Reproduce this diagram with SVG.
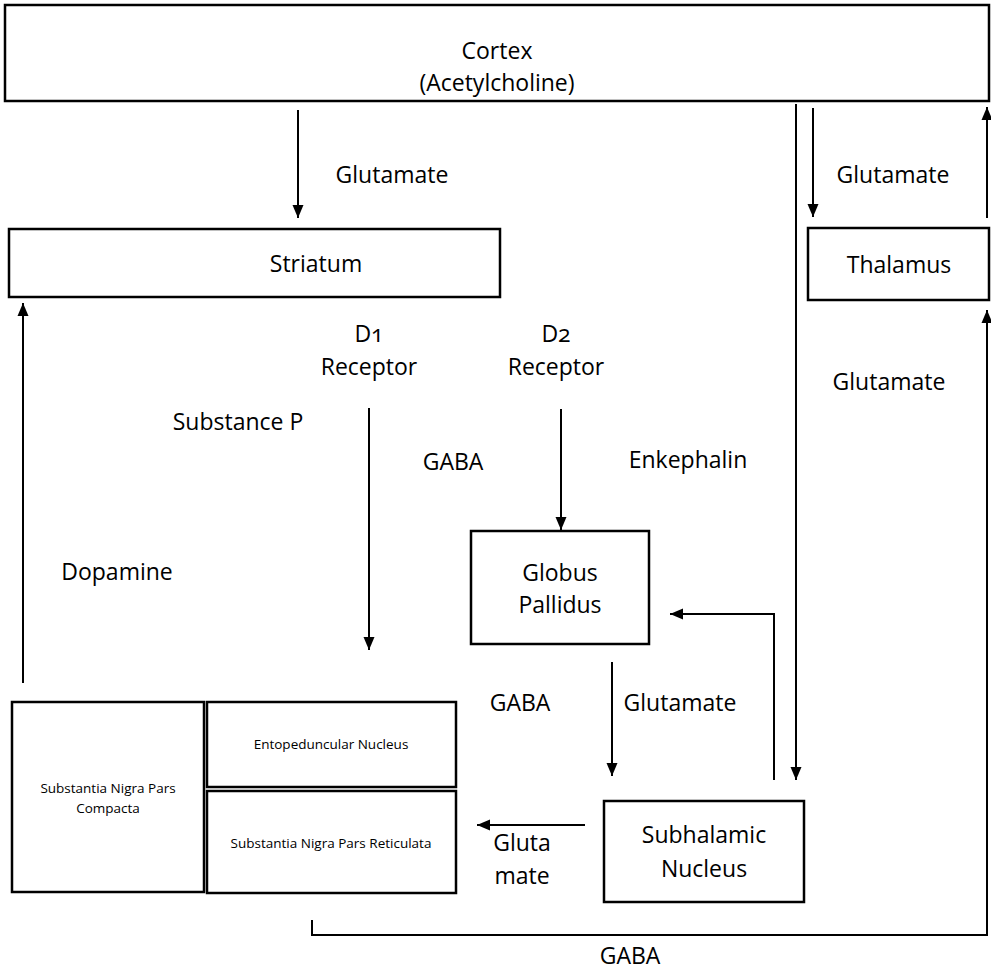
<svg xmlns="http://www.w3.org/2000/svg" width="991" height="976" viewBox="0 0 991 976">
<style>
.box{fill:#fff;stroke:#000;stroke-width:2.5}
.arr{fill:none;stroke:#000;stroke-width:2;marker-end:url(#ah)}
text{font-family:"Open Sans","Noto Sans","Liberation Sans",sans-serif;font-size:23px;fill:#000;text-anchor:middle}
.sm{font-size:13.5px}
.onum{font-variant-numeric:oldstyle-nums}
</style>
<defs>
<marker id="ah" markerUnits="userSpaceOnUse" markerWidth="14" markerHeight="14" viewBox="0 0 14 14" refX="13" refY="7" orient="auto">
<path d="M0,1.5 L13,7 L0,12.5 Z" fill="#000"/>
</marker>
</defs>
<rect width="991" height="976" fill="#fff"/>
<g id="connectors">
<line class="arr" x1="298" y1="110" x2="298" y2="218"/>
<line class="arr" x1="813" y1="108" x2="813" y2="217"/>
<line class="arr" x1="987" y1="218" x2="987" y2="107"/>
<line class="arr" x1="796" y1="104" x2="796" y2="780"/>
<polyline class="arr" points="312,920 312,935 987,935 987,310"/>
<line class="arr" x1="23" y1="683" x2="23" y2="303"/>
<line class="arr" x1="369" y1="408" x2="369" y2="650"/>
<line class="arr" x1="561" y1="409" x2="561" y2="530"/>
<polyline class="arr" points="774,780 774,614 670,614"/>
<line class="arr" x1="612" y1="662" x2="612" y2="776"/>
<line class="arr" x1="585" y1="825" x2="477" y2="825"/>
</g>
<g id="labels">
<text x="392" y="183">Glutamate</text>
<text x="893" y="183">Glutamate</text>
<text x="889" y="390">Glutamate</text>
<text x="630" y="964">GABA</text>
<text x="117" y="580">Dopamine</text>
<text class="onum" x="369" y="342">D1</text>
<text x="369" y="375">Receptor</text>
<text class="onum" x="556" y="342">D2</text>
<text x="556" y="375">Receptor</text>
<text x="238" y="430">Substance P</text>
<text x="453" y="470">GABA</text>
<text x="688" y="468">Enkephalin</text>
<text x="520" y="711">GABA</text>
<text x="680" y="711">Glutamate</text>
<text x="522" y="851">Gluta</text>
<text x="522" y="884">mate</text>
</g>
<g id="cortex">
<rect class="box" x="5" y="5" width="984" height="96"/>
<text x="497" y="59">Cortex</text>
<text x="497" y="91">(Acetylcholine)</text>
</g>
<g id="striatum">
<rect class="box" x="9" y="229" width="491" height="68"/>
<text x="316" y="272">Striatum</text>
</g>
<g id="thalamus">
<rect class="box" x="808" y="228" width="181" height="72"/>
<text x="899" y="273">Thalamus</text>
</g>
<g id="globus-pallidus">
<rect class="box" x="471" y="531" width="178" height="113"/>
<text x="560" y="581">Globus</text>
<text x="560" y="613">Pallidus</text>
</g>
<g id="subthalamic-nucleus">
<rect class="box" x="604" y="801" width="200" height="101"/>
<text x="704" y="843">Subhalamic</text>
<text x="704" y="877">Nucleus</text>
</g>
<g id="sn-pars-compacta">
<rect class="box" x="12" y="702" width="192" height="190"/>
<text class="sm" x="108" y="793">Substantia Nigra Pars</text>
<text class="sm" x="108" y="813">Compacta</text>
</g>
<g id="entopeduncular-nucleus">
<rect class="box" x="207" y="702" width="249" height="85"/>
<text class="sm" x="331" y="749">Entopeduncular Nucleus</text>
</g>
<g id="sn-pars-reticulata">
<rect class="box" x="207" y="791" width="249" height="102"/>
<text class="sm" x="331" y="848">Substantia Nigra Pars Reticulata</text>
</g>
</svg>
